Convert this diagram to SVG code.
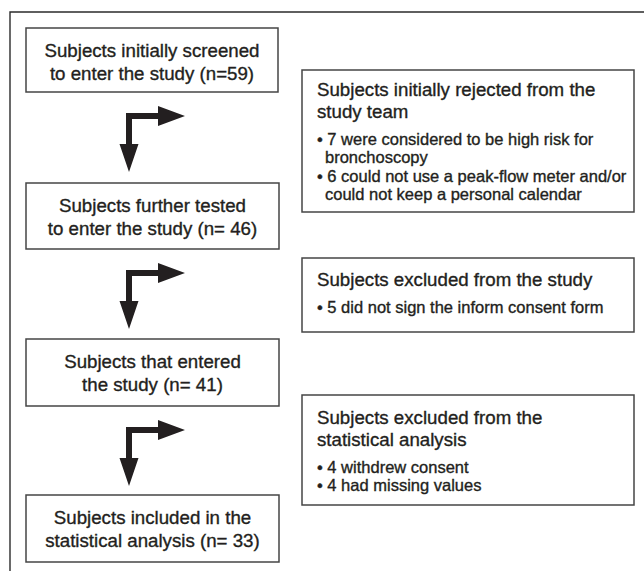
<svg xmlns="http://www.w3.org/2000/svg" width="644" height="571" viewBox="0 0 644 571">
<defs>
<style>
.frame{fill:none;stroke:#2b2b2b;stroke-width:1.4}
.box{fill:#ffffff;stroke:#454545;stroke-width:1.5}
.t{font-family:"Liberation Sans",Arial,Helvetica,sans-serif;font-size:18.7px;fill:#231f20;stroke:#231f20;stroke-width:0.35}
.c{text-anchor:middle}
.b{font-family:"Liberation Sans",Arial,Helvetica,sans-serif;font-size:16.5px;fill:#231f20;stroke:#231f20;stroke-width:0.35}
.arrow{fill:#231f20;stroke:none}
</style>
<path id="elbow" d="M126,0 L158,0 L158,-7 L185,3 L158,13 L158,6 L132,6 L132,31 L138.5,31 L129,59 L119.5,31 L126,31 Z"/>
</defs>
<rect width="644" height="571" fill="#ffffff"/>
<path class="frame" d="M10,571 L10,12 L644,12"/>

<g id="connectors">
<use href="#elbow" class="arrow" transform="translate(0,113)"/>
<use href="#elbow" class="arrow" transform="translate(0,270)"/>
<use href="#elbow" class="arrow" transform="translate(0,427)"/>
</g>

<g id="node-screened">
<rect class="box" x="26" y="28" width="252" height="64"/>
<text class="t c" x="152" y="57">Subjects initially screened</text>
<text class="t c" x="152" y="80">to enter the study (n=59)</text>
</g>

<g id="node-tested">
<rect class="box" x="26" y="183" width="253" height="66"/>
<text class="t c" x="152.5" y="212">Subjects further tested</text>
<text class="t c" x="152.5" y="235">to enter the study (n= 46)</text>
</g>

<g id="node-entered">
<rect class="box" x="26" y="339" width="253" height="67"/>
<text class="t c" x="152.5" y="368">Subjects that entered</text>
<text class="t c" x="152.5" y="391">the study (n= 41)</text>
</g>

<g id="node-included">
<rect class="box" x="26" y="495" width="253" height="67"/>
<text class="t c" x="152.5" y="524">Subjects included in the</text>
<text class="t c" x="152.5" y="547">statistical analysis (n= 33)</text>
</g>

<g id="node-rejected">
<rect class="box" x="302" y="70" width="332" height="142"/>
<text class="t" x="317" y="96">Subjects initially rejected from the</text>
<text class="t" x="317" y="118">study team</text>
<text class="b" x="317" y="145">• 7 were considered to be high risk for</text>
<text class="b" x="325" y="163">bronchoscopy</text>
<text class="b" x="317" y="182">• 6 could not use a peak-flow meter and/or</text>
<text class="b" x="325" y="200">could not keep a personal calendar</text>
</g>

<g id="node-excluded-study">
<rect class="box" x="302" y="258" width="332" height="74"/>
<text class="t" x="317" y="286">Subjects excluded from the study</text>
<text class="b" x="317" y="313">• 5 did not sign the inform consent form</text>
</g>

<g id="node-excluded-analysis">
<rect class="box" x="302" y="395" width="332" height="110"/>
<text class="t" x="317" y="424">Subjects excluded from the</text>
<text class="t" x="317" y="446">statistical analysis</text>
<text class="b" x="317" y="473">• 4 withdrew consent</text>
<text class="b" x="317" y="491">• 4 had missing values</text>
</g>
</svg>
